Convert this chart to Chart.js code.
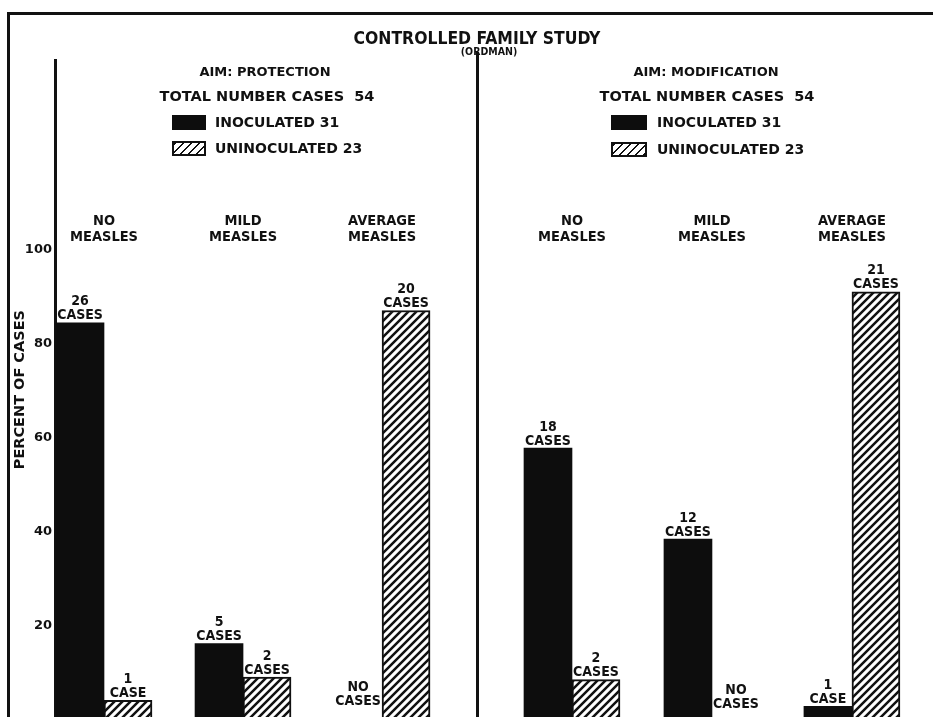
<!DOCTYPE html>
<html>
<head>
<meta charset="utf-8">
<script src="https://cdn.jsdelivr.net/npm/chart.js@4.4.1/dist/chart.umd.min.js"></script>
<style>
html,body{margin:0;padding:0;background:#fff;overflow:hidden;width:933px;height:717px;}
#frame{position:absolute;left:7px;top:12px;width:940px;height:730px;border-left:3px solid #111;border-top:3px solid #111;}
canvas{position:absolute;top:0;}
#cL{left:0;}
#cR{left:470px;}
.t{position:absolute;font-family:'DejaVu Sans';font-weight:bold;color:#111;white-space:nowrap;line-height:1;}
.c{transform:translate(-50%,-50%);}
.l{transform:translate(0,-50%);}
.cond{font-family:'DejaVu Sans Condensed','DejaVu Sans';}
.box{position:absolute;box-sizing:border-box;}
.solid{background:#0d0d0d;}
.hatch{border:2px solid #111;background:repeating-linear-gradient(135deg,#111 0 2px,#fff 2px 5.66px);}
</style>
</head>
<body>
<div id="frame"></div>
<canvas id="cL" width="477" height="730"></canvas>
<canvas id="cR" width="463" height="730"></canvas>

<div class="t c cond" style="left:477px;top:39px;font-size:17.4px;">CONTROLLED FAMILY STUDY</div>
<div class="t c cond" style="left:489px;top:51px;font-size:10.5px;">(ORDMAN)</div>

<div class="t c" style="left:265px;top:71px;font-size:13px;">AIM: PROTECTION</div>
<div class="t c" style="left:267px;top:96px;font-size:14.5px;">TOTAL&nbsp;NUMBER&nbsp;CASES&nbsp;&nbsp;54</div>
<div class="box solid" style="left:172px;top:115px;width:34px;height:15px;"></div>
<div class="t l" style="left:215px;top:122px;font-size:14px;">INOCULATED 31</div>
<div class="box hatch" style="left:172px;top:141px;width:34px;height:15px;"></div>
<div class="t l" style="left:215px;top:148px;font-size:14px;">UNINOCULATED 23</div>

<div class="t c" style="left:706px;top:71px;font-size:13px;">AIM: MODIFICATION</div>
<div class="t c" style="left:707px;top:96px;font-size:14.5px;">TOTAL&nbsp;NUMBER&nbsp;CASES&nbsp;&nbsp;54</div>
<div class="box solid" style="left:611px;top:115px;width:36px;height:15px;"></div>
<div class="t l" style="left:657px;top:122px;font-size:14px;">INOCULATED 31</div>
<div class="box hatch" style="left:611px;top:142px;width:36px;height:15px;"></div>
<div class="t l" style="left:657px;top:149px;font-size:14px;">UNINOCULATED 23</div>

<script>
// ---- data ----
const categories = [['NO', 'MEASLES'], ['MILD', 'MEASLES'], ['AVERAGE', 'MEASLES']];
const yTickLabels = [20, 40, 60, 80, 100];

// Aim: protection (percent of cases)
const protInoculatedPct = [84.5, 16.1, 0];
const protUninoculatedPct = [4.0, 9.0, 87.1];
const protInoculatedCases = [26, 5, 0];
const protUninoculatedCases = [1, 2, 20];

// Aim: modification (percent of cases)
const modInoculatedPct = [58.1, 38.8, 3.3];
const modUninoculatedPct = [9.0, 0, 91.3];
const modInoculatedCases = [18, 12, 1];
const modUninoculatedCases = [2, 0, 21];

const INK = '#111';
const BLACK = '#0d0d0d';

function makeHatch() {
  const c = document.createElement('canvas');
  c.width = 8; c.height = 8;
  const g = c.getContext('2d');
  g.fillStyle = '#fff';
  g.fillRect(0, 0, 8, 8);
  g.strokeStyle = INK;
  g.lineWidth = 2.5;
  g.beginPath();
  g.moveTo(-2, 10); g.lineTo(10, -2);
  g.moveTo(-2, 2); g.lineTo(2, -2);
  g.moveTo(6, 10); g.lineTo(10, 6);
  g.stroke();
  return g.createPattern(c, 'repeat');
}

const caseLabels = {
  id: 'caseLabels',
  afterDatasetsDraw(chart, args, opts) {
    const ctx = chart.ctx;
    ctx.save();
    ctx.fillStyle = INK;
    ctx.textAlign = 'center';
    ctx.textBaseline = 'middle';
    ctx.font = 'bold 14px "DejaVu Sans Condensed", "DejaVu Sans"';
    chart.data.datasets.forEach((ds, di) => {
      const meta = chart.getDatasetMeta(di);
      meta.data.forEach((bar, i) => {
        const n = ds.cases[i];
        const lift = n === 0 ? 11 : 0;
        const first = n === 0 ? 'NO' : String(n);
        const second = n === 1 ? 'CASE' : 'CASES';
        ctx.fillText(first, bar.x, bar.y - 21 - lift);
        ctx.fillText(second, bar.x, bar.y - 7 - lift);
      });
    });
    const xs = chart.scales.x;
    ctx.font = 'bold 14.5px "DejaVu Sans Condensed", "DejaVu Sans"';
    opts.categories.forEach((lines, i) => {
      const x = xs.getPixelForValue(i);
      lines.forEach((ln, k) => ctx.fillText(ln, x, opts.headerY + k * 16.5));
    });
    ctx.restore();
  }
};

function toPoints(arr) { return arr.map((v, i) => ({ x: i, y: v })); }

function makeChart(id, inocPct, uninocPct, inocCases, uninocCases, cfg) {
  const hatch = makeHatch();
  return new Chart(document.getElementById(id), {
    type: 'bar',
    data: {
      datasets: [
        { label: 'INOCULATED', data: toPoints(inocPct), cases: inocCases,
          backgroundColor: BLACK, borderWidth: 0 },
        { label: 'UNINOCULATED', data: toPoints(uninocPct), cases: uninocCases,
          backgroundColor: hatch, borderColor: INK, borderWidth: 2 }
      ]
    },
    options: {
      responsive: false,
      animation: false,
      barThickness: 48,
      layout: { padding: { top: cfg.top, bottom: 8, left: 0, right: 0 } },
      plugins: {
        legend: { display: false },
        tooltip: { enabled: false },
        caseLabels: { categories: categories, headerY: 221 }
      },
      scales: {
        x: { type: 'linear', display: false, offset: false, grid: { offset: false },
             min: cfg.xmin, max: cfg.xmax },
        y: {
          min: 0, max: cfg.ymax,
          afterFit(scale) { scale.width = cfg.axisWidth; },
          grid: { display: false, drawTicks: false },
          border: { display: true, color: INK, width: 3 },
          ticks: {
            display: cfg.showTicks,
            stepSize: 20,
            padding: 3,
            color: INK,
            font: { family: 'DejaVu Sans', weight: 'bold', size: 13 },
            callback: v => yTickLabels.includes(v) ? String(v) : ''
          },
          title: {
            display: cfg.showTicks,
            text: 'PERCENT OF CASES',
            color: INK,
            font: { family: 'DejaVu Sans', weight: 'bold', size: 14.5 },
            padding: { top: 12, bottom: 0 }
          }
        }
      }
    },
    plugins: [caseLabels]
  });
}

makeChart('cL', protInoculatedPct, protUninoculatedPct, protInoculatedCases, protUninoculatedCases,
  { top: 60, ymax: 140.5, xmin: -0.3525, xmax: 2.683, axisWidth: 55, showTicks: true });
makeChart('cR', modInoculatedPct, modUninoculatedPct, modInoculatedCases, modUninoculatedCases,
  { top: 53, ymax: 141.96, xmin: -0.6786, xmax: 2.579, axisWidth: 7, showTicks: false });
</script>
</body>
</html>
